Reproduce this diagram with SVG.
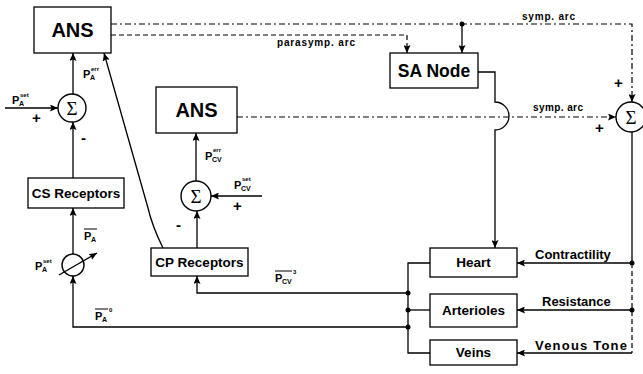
<svg xmlns="http://www.w3.org/2000/svg" width="643" height="374" viewBox="0 0 643 374">
<defs>
<marker id="arr" markerWidth="8" markerHeight="7" refX="8" refY="3.5" orient="auto" markerUnits="userSpaceOnUse"><path d="M0,0 L8,3.5 L0,7 L1.5,3.5 z" fill="#000"/></marker>
</defs>
<style>
.box{fill:#fff;stroke:#000;stroke-width:1.3}
.ln{fill:none;stroke:#000;stroke-width:1.3}
.dd{fill:none;stroke:#000;stroke-width:1.2;stroke-dasharray:6 3 2 3}
.ds{fill:none;stroke:#000;stroke-width:1.2;stroke-dasharray:5 3}
.sg{fill:#fff;stroke:#000;stroke-width:1.4}
text{font-family:"Liberation Sans",Arial,sans-serif;font-weight:bold;fill:#000}
.big{font-size:20px;text-anchor:middle}
.mid{font-size:13.5px;text-anchor:middle}
.lab{font-size:13px}
.sm{font-size:10px}
.p{font-size:11px}
.sub{font-size:7px}
.sup{font-size:6px}
.pm{font-size:15px}
.sig{font-family:"Liberation Serif","Times New Roman",serif;font-weight:normal;font-size:19px;text-anchor:middle}
.dot{fill:#000}
</style>
<rect width="643" height="374" fill="#fff"/>

<g id="connectors">
  <path class="ln" d="M73,94 V53" marker-end="url(#arr)"/>
  <path class="ln" d="M5,108 H58" marker-end="url(#arr)"/>
  <path class="ln" d="M73,178 V122" marker-end="url(#arr)"/>
  <path class="ln" d="M73,254 V208" marker-end="url(#arr)"/>
  <path class="ln" d="M408,327 H73 V276" marker-end="url(#arr)"/>
  <path class="ln" d="M163,248 C158,238 152,225 148,208 L104,53" marker-end="url(#arr)"/>
  <path class="ln" d="M196,181 V133" marker-end="url(#arr)"/>
  <path class="ln" d="M197,248 V211" marker-end="url(#arr)"/>
  <path class="ln" d="M262,196 H211" marker-end="url(#arr)"/>
  <path class="ln" d="M408,293 H197 V276" marker-end="url(#arr)"/>
  <path class="ln" d="M430,263 H408 V353 H430"/>
  <path class="ln" d="M408,310 H430"/>
  <path class="ln" d="M632,263 H517" marker-end="url(#arr)"/>
  <path class="ln" d="M632,310 H517" marker-end="url(#arr)"/>
  <path class="ln" d="M632,353 H517" marker-end="url(#arr)"/>
  <path class="ln" d="M632,132 V263"/>
  <path class="ds" d="M632,263 V353"/>
  <path class="ln" d="M478,72 H495 V102 A14,14 0 0 1 495,130 V248" marker-end="url(#arr)"/>
  <path class="dd" d="M111,24 H632 V102" marker-end="url(#arr)"/>
  <path class="ln" d="M462,24 V53" marker-end="url(#arr)"/>
  <path class="ds" d="M111,35 H407 V53" marker-end="url(#arr)"/>
  <path class="dd" d="M237,117 H616" marker-end="url(#arr)"/>
  <circle class="dot" cx="462" cy="24" r="2.5"/>
  <circle class="dot" cx="408" cy="293" r="2.5"/>
  <circle class="dot" cx="408" cy="310" r="2.5"/>
  <circle class="dot" cx="408" cy="327" r="2.5"/>
  <circle class="dot" cx="632" cy="263" r="2.5"/>
  <circle class="dot" cx="632" cy="310" r="2.5"/>
</g>

<g id="ans1"><rect class="box" x="34" y="7" width="77" height="46"/><text class="big" x="72.5" y="37">ANS</text></g>
<g id="ans2"><rect class="box" x="156" y="87" width="81" height="46"/><text class="big" x="196.5" y="117">ANS</text></g>
<g id="sanode"><rect class="box" x="390" y="53" width="88" height="35"/><text class="big" style="font-size:17.5px" x="434" y="77">SA Node</text></g>
<g id="cs"><rect class="box" x="28" y="178" width="96" height="30"/><text class="mid" x="76" y="198">CS Receptors</text></g>
<g id="cp"><rect class="box" x="151" y="248" width="97" height="28"/><text class="mid" x="199.5" y="267">CP Receptors</text></g>
<g id="heart"><rect class="box" x="430" y="248" width="87" height="29"/><text class="mid" x="473.5" y="267">Heart</text></g>
<g id="arterioles"><rect class="box" x="430" y="294" width="87" height="33"/><text class="mid" x="473.5" y="315">Arterioles</text></g>
<g id="veins"><rect class="box" x="430" y="340" width="87" height="25"/><text class="mid" x="473.5" y="357">Veins</text></g>

<g id="sum1"><circle class="sg" cx="72" cy="108" r="14"/><text class="sig" x="72" y="114.5">Σ</text></g>
<g id="sum2"><circle class="sg" cx="196" cy="196" r="15"/><text class="sig" x="196" y="202.5">Σ</text></g>
<g id="sum3"><circle class="sg" cx="631" cy="117" r="15"/><text class="sig" x="631" y="123.5">Σ</text></g>
<g id="transducer"><circle class="sg" cx="73" cy="265" r="11"/><path class="ln" d="M59,275 L97,253" marker-end="url(#arr)"/></g>

<g id="labels">
  <text class="sm" x="522" y="20" textLength="53">symp. arc</text>
  <text class="sm" x="277" y="46" textLength="78">parasymp. arc</text>
  <text class="sm" x="533" y="111" textLength="50">symp. arc</text>
  <text class="lab" x="535" y="259">Contractility</text>
  <text class="lab" x="542" y="306">Resistance</text>
  <text class="lab" x="535" y="350" textLength="92">Venous Tone</text>
  <text class="pm" x="32" y="123">+</text>
  <text class="pm" x="81" y="143">-</text>
  <text class="pm" x="614" y="88">+</text>
  <text class="pm" x="595" y="133">+</text>
  <text class="pm" x="176" y="230">-</text>
  <text class="pm" x="233" y="211">+</text>
  <text class="p" x="12" y="104">P</text><text class="sub" x="19" y="106">A</text><text class="sup" x="20" y="97">set</text>
  <text class="p" x="83" y="78">P</text><text class="sub" x="90" y="80">A</text><text class="sup" x="91" y="71">err</text>
  <text class="p" x="84" y="240">P</text><text class="sub" x="91" y="242">A</text><line x1="84" y1="229" x2="97" y2="229" stroke="#000" stroke-width="1"/>
  <text class="p" x="35" y="270">P</text><text class="sub" x="42" y="272">A</text><text class="sup" x="43" y="263">set</text>
  <text class="p" x="95" y="320">P</text><text class="sub" x="102" y="322">A</text><text class="sup" x="109" y="312">0</text><line x1="95" y1="309" x2="108" y2="309" stroke="#000" stroke-width="1"/>
  <text class="p" x="205" y="160">P</text><text class="sub" x="212" y="162">CV</text><text class="sup" x="213" y="152">err</text>
  <text class="p" x="234" y="189">P</text><text class="sub" x="241" y="191">CV</text><text class="sup" x="242" y="181">set</text>
  <text class="p" x="275" y="282">P</text><text class="sub" x="282" y="284">CV</text><text class="sup" x="293" y="274">3</text><line x1="275" y1="271" x2="292" y2="271" stroke="#000" stroke-width="1"/>
</g>
</svg>
